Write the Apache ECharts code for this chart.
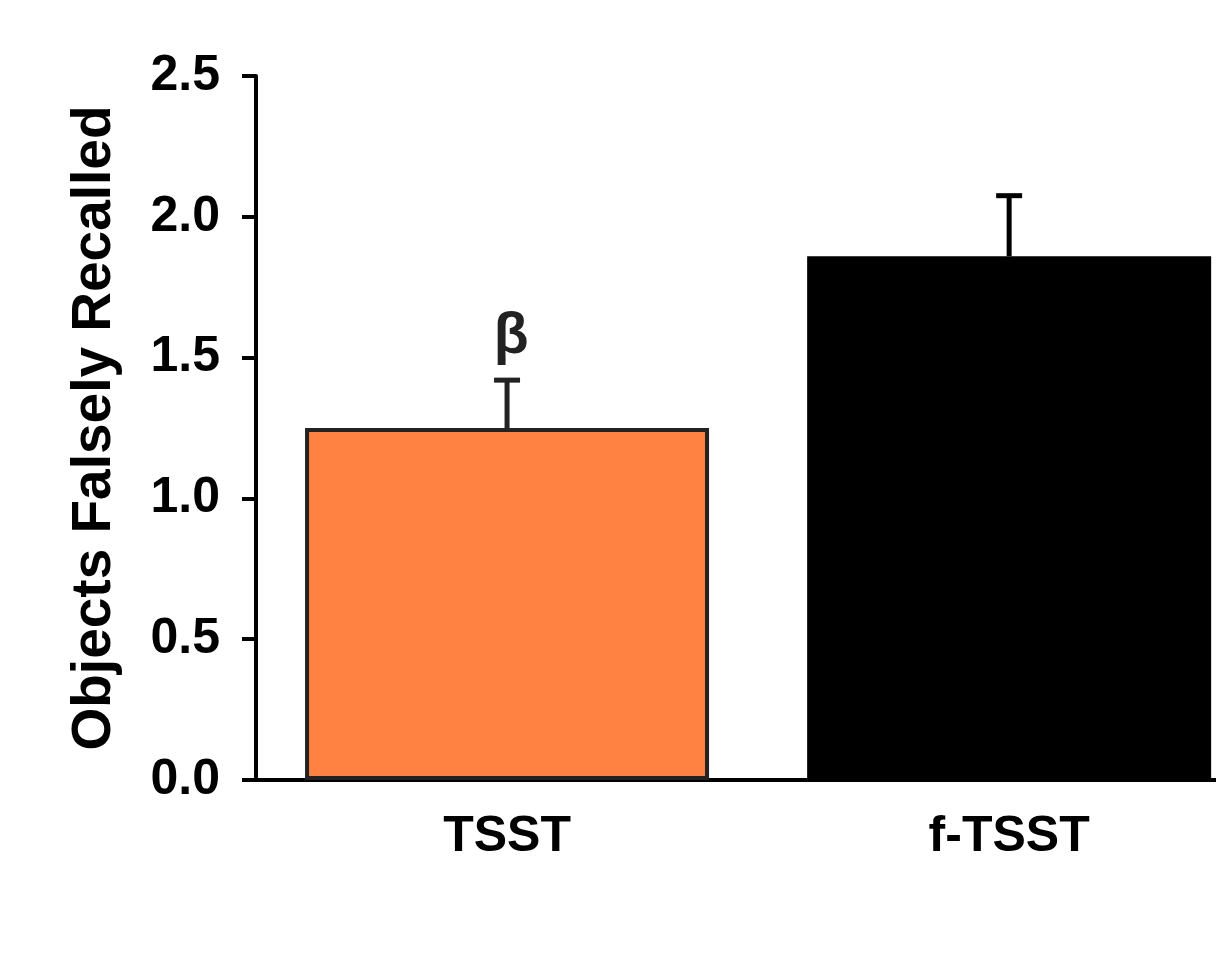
<!DOCTYPE html>
<html>
<head>
<meta charset="utf-8">
<script src="https://cdn.jsdelivr.net/npm/echarts@6/dist/echarts.min.js"></script>
<style>html,body{margin:0;padding:0;background:#fff;}#c{width:1216px;height:969px;}</style>
</head>
<body>
<div id="c"></div>
<script>
const categories = ['TSST', 'f-TSST'];
const means = [1.25, 1.86];
const errors = [0.17, 0.215];
const sigLabels = ['β', ''];
const yTicks = [0, 0.5, 1.0, 1.5, 2.0, 2.5];

const barColors = ['#FF8243', '#000000'];
const borderColors = ['#222222', '#000000'];
const FONT = '"Liberation Sans", Arial, sans-serif';

const chart = echarts.init(document.getElementById('c'), null, {renderer: 'canvas'});

// category positions on a value axis so the second band can run past the right edge
const catIdx = categories.map((c, i) => i);

chart.setOption({
  animation: false,
  backgroundColor: '#ffffff',
  grid: {left: 256, right: 0, top: 76, bottom: 189, containLabel: false},
  xAxis: {
    type: 'value',
    min: -0.5, max: 1.412,
    axisLine: {show: true, onZero: false, lineStyle: {color: '#000', width: 4}},
    axisTick: {show: false},
    splitLine: {show: false},
    axisLabel: {
      color: '#000', fontFamily: FONT, fontWeight: 'bold', fontSize: 50, margin: 32,
      customValues: catIdx,
      formatter: v => categories[Math.round(v)] || ''
    }
  },
  yAxis: {
    type: 'value',
    min: 0, max: 2.5, interval: 0.5,
    name: 'Objects Falsely Recalled',
    nameLocation: 'middle',
    nameGap: 134,
    nameTextStyle: {color: '#000', fontFamily: FONT, fontWeight: 'bold', fontSize: 55},
    axisLine: {show: true, onZero: false, lineStyle: {color: '#000', width: 4}},
    axisTick: {show: true, length: 14, lineStyle: {color: '#000', width: 4}},
    splitLine: {show: false},
    axisLabel: {
      color: '#000', fontFamily: FONT, fontWeight: 'bold', fontSize: 50, margin: 36,
      customValues: yTicks,
      formatter: v => v.toFixed(1)
    }
  },
  series: [
    {
      type: 'bar',
      barWidth: 404,
      clip: false,
      data: means.map((v, i) => ({
        value: [catIdx[i], v],
        itemStyle: {color: barColors[i], borderColor: borderColors[i], borderWidth: 4}
      }))
    },
    {
      type: 'custom',
      z: 5,
      clip: false,
      data: means.map((m, i) => [catIdx[i], m, m + errors[i], i]),
      renderItem: function (params, api) {
        const i = api.value(3);
        const base = api.coord([api.value(0), api.value(1)]);
        const top = api.coord([api.value(0), api.value(2)]);
        const col = borderColors[i];
        const children = [
          {type: 'line', shape: {x1: base[0], y1: base[1], x2: base[0], y2: top[1]}, style: {stroke: col, lineWidth: 5}},
          {type: 'line', shape: {x1: base[0] - 13, y1: top[1], x2: base[0] + 13, y2: top[1]}, style: {stroke: col, lineWidth: 5}}
        ];
        if (sigLabels[i]) {
          children.push({
            type: 'text',
            style: {
              text: sigLabels[i], x: base[0] + 4, y: top[1] - 43,
              fill: '#222', font: 'bold 57px ' + FONT,
              align: 'center', verticalAlign: 'middle'
            }
          });
        }
        return {type: 'group', children: children};
      }
    }
  ]
});
</script>
</body>
</html>
